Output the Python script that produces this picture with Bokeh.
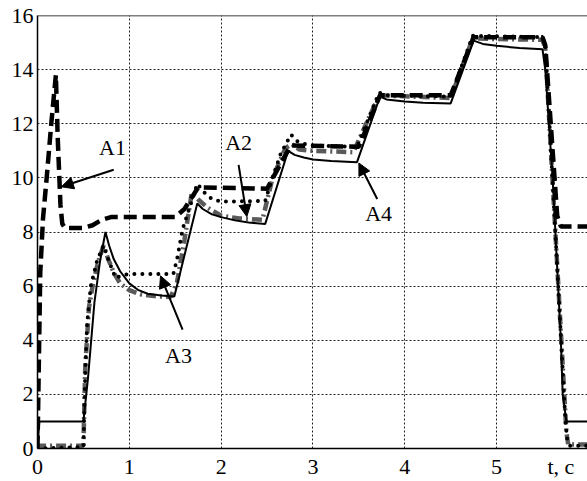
from bokeh.plotting import figure
from bokeh.models import FixedTicker, Span, Label, Arrow, NormalHead, Range1d
from bokeh.embed import file_html
from bokeh.resources import INLINE

# ---- data ----
t_solid = [0.00, 0.02, 0.50, 0.55, 0.62, 0.68, 0.74, 0.78, 0.83, 0.90, 1.00, 1.10, 1.20, 1.35, 1.49,
           1.74, 1.80, 1.90, 2.00, 2.15, 2.30, 2.48, 2.73, 2.80, 2.90, 3.00, 3.20, 3.48,
           3.73, 3.80, 4.00, 4.20, 4.50, 4.75, 4.85, 5.00, 5.25, 5.50, 5.53, 5.57, 5.61,
           5.64, 5.67, 5.70, 5.72, 5.76, 6.00]
v_solid = [0.0, 1.0, 1.0, 2.6, 5.4, 6.9, 8.0, 7.5, 7.0, 6.55, 6.1, 5.85, 5.72, 5.65, 5.62,
           9.05, 8.85, 8.65, 8.55, 8.43, 8.35, 8.30, 11.0, 10.85, 10.75, 10.68, 10.62, 10.58,
           13.0, 12.9, 12.82, 12.78, 12.75, 15.07, 14.95, 14.88, 14.8, 14.75, 14.0, 12.0, 10.0,
           8.0, 6.0, 4.0, 2.0, 1.0, 1.0]

t_dash = [0.00, 0.03, 0.06, 0.10, 0.15, 0.20, 0.22, 0.25, 0.27, 0.30, 0.50, 0.60, 0.70, 0.80,
          1.50, 1.60, 1.75, 2.50, 2.58, 2.66, 2.76, 3.50, 3.73, 4.50, 4.75, 5.50, 5.53,
          5.66, 5.70, 6.00]
v_dash = [0.0, 6.5, 8.5, 10.0, 12.0, 13.8, 11.5, 9.0, 8.3, 8.15, 8.15, 8.25, 8.45, 8.55,
          8.55, 8.85, 9.65, 9.6, 10.1, 10.6, 11.2, 11.15, 13.05, 13.05, 15.2, 15.2, 14.9,
          8.6, 8.2, 8.2]

t_dot = [0.00, 0.50, 0.52, 0.54, 0.58, 0.65, 0.72, 0.78, 0.85, 0.92, 1.00, 1.48, 1.52, 1.58,
         1.74, 1.83, 1.90, 2.00, 2.48, 2.55, 2.65, 2.76, 2.83, 2.95, 3.48, 3.72, 3.80, 4.50,
         4.74, 5.50, 5.53, 5.75, 5.77, 5.80, 6.00]
v_dot = [0.0, 0.05, 2.8, 4.6, 6.0, 6.95, 7.5, 6.9, 6.3, 6.4, 6.45, 6.45, 7.0, 8.1,
         9.78, 9.41, 9.22, 9.12, 9.15, 9.9, 10.9, 11.6, 11.35, 11.2, 11.15, 13.15, 13.05, 13.0,
         15.25, 15.2, 14.9, 1.0, 0.3, 0.1, 0.1]

t_gray = [0.00, 0.02, 0.50, 0.52, 0.56, 0.60, 0.66, 0.72, 0.77, 0.83, 0.90, 1.00, 1.12, 1.30,
          1.45, 1.52, 1.60, 1.68, 1.75, 1.85, 2.00, 2.20, 2.45, 2.56, 2.70, 2.77, 2.85, 3.00,
          3.44, 3.72, 4.50, 4.74, 5.50, 5.53, 5.76, 5.78, 6.00]
v_gray = [0.0, 0.1, 0.1, 3.0, 5.2, 6.0, 6.9, 7.5, 7.0, 6.5, 6.1, 5.85, 5.7, 5.62,
          5.6, 6.15, 7.7, 9.45, 9.2, 8.9, 8.6, 8.5, 8.45, 10.0, 11.1, 11.25, 11.05, 11.0,
          10.95, 13.05, 12.95, 15.15, 15.1, 14.8, 0.6, 0.15, 0.15]

x_ticks = [0, 1, 2, 3, 4, 5, 5.7]
x_tick_labels = {5.7: "t, c"}
x_grid = [1, 2, 3, 4, 5]
y_ticks = [0, 2, 4, 6, 8, 10, 12, 14, 16]
y_grid = [2, 4, 6, 8, 10, 12, 14]

# annotations: label text, label position, arrow tail, arrow head
notes = [
    ("A1", (0.817, 11.14), (0.83, 10.30), (0.26, 9.67)),
    ("A2", (2.19, 11.29), (2.19, 10.48), (2.28, 8.57)),
    ("A3", (1.536, 3.43), (1.58, 4.39), (1.34, 6.38)),
    ("A4", (3.715, 8.67), (3.70, 9.22), (3.50, 10.55)),
]

FONT = "Times New Roman, Liberation Serif, serif"
FS = "22px"

p = figure(width=587, height=481, x_range=Range1d(0, 5.99), y_range=Range1d(0, 16),
           output_backend="svg", toolbar_location=None,
           min_border_left=37, min_border_top=15, min_border_right=0, min_border_bottom=32)
p.outline_line_color = None
p.background_fill_color = "white"
p.border_fill_color = "white"

for ax in (p.xaxis[0], p.yaxis[0]):
    ax.axis_line_color = "black"
    ax.axis_line_width = 1.5
    ax.major_tick_out = 0
    ax.major_tick_in = 0
    ax.minor_tick_line_color = None
    ax.major_tick_line_color = None
    ax.major_label_text_font = FONT
    ax.major_label_text_font_size = FS
    ax.major_label_text_color = "black"

p.xaxis.ticker = FixedTicker(ticks=x_ticks)
p.xaxis.major_label_overrides = x_tick_labels
p.xaxis.major_label_standoff = 5
p.yaxis.ticker = FixedTicker(ticks=y_ticks)
p.yaxis.major_label_standoff = 4

p.xgrid.ticker = FixedTicker(ticks=x_grid)
p.ygrid.ticker = FixedTicker(ticks=y_grid)
for g in (p.xgrid[0], p.ygrid[0]):
    g.grid_line_color = "#222222"
    g.grid_line_dash = "2 2"
    g.grid_line_width = 1

p.add_layout(Span(location=16, dimension="width", line_color="black", line_width=1.5))

p.line(t_gray, v_gray, line_color="#5a5a5a", line_width=4.5, line_dash="10 4 2 4")
p.line(t_dot, v_dot, line_color="black", line_width=4, line_dash="0 8", line_cap="round")
p.line(t_dash, v_dash, line_color="black", line_width=4.5, line_dash="13 6")
p.line(t_solid, v_solid, line_color="black", line_width=2)

for name, (lx, ly), (tx, ty), (hx, hy) in notes:
    p.add_layout(Label(x=lx, y=ly, text=name, text_font=FONT, text_font_size=FS,
                       text_align="center", text_baseline="middle", text_color="black"))
    p.add_layout(Arrow(end=NormalHead(size=12, fill_color="black", line_color="black"),
                       x_start=tx, y_start=ty, x_end=hx, y_end=hy,
                       line_color="black", line_width=2))

open("out.html", "w").write(file_html(p, INLINE))
